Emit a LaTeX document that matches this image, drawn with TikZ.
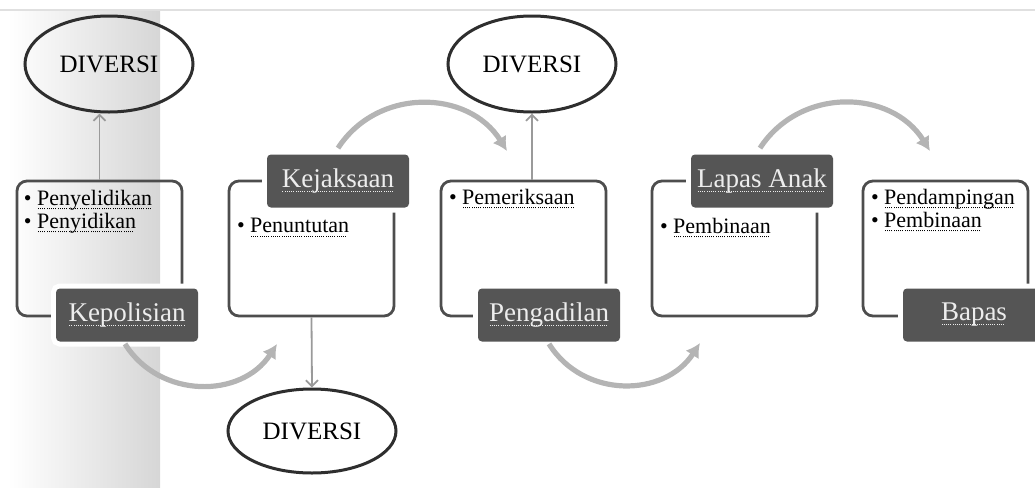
\documentclass[tikz,border=0pt]{standalone}
\usepackage{fontspec}
\setmainfont{Liberation Serif}
\usetikzlibrary{positioning,shapes.geometric,arrows.meta}
\definecolor{boxline}{HTML}{4D4D4D}
\definecolor{labelfill}{HTML}{555555}
\definecolor{labeltext}{HTML}{EDEDED}
\definecolor{flowgray}{HTML}{B4B4B4}
\definecolor{linkgray}{HTML}{9A9A9A}
\definecolor{ovalline}{HTML}{2E2E2E}
\newsavebox{\wavybox}
\newcommand{\wavy}[1]{\sbox\wavybox{#1}%
  \rlap{\lower2pt\hbox to\wd\wavybox{\leaders\hbox to 1.1pt{\hss\rule{0.45pt}{0.45pt}\hss}\hfill}}%
  \usebox\wavybox}
\tikzset{
  stagebox/.style={draw=boxline, line width=1.4pt, rounded corners=5pt,
    minimum width=82.5pt, minimum height=67.5pt, inner sep=0pt},
  stagelabel/.style={fill=labelfill, preaction={draw=white, line width=5pt},
    rounded corners=2pt, minimum width=71pt, minimum height=26.5pt, inner sep=0pt,
    text=labeltext, font=\fontsize{13.5}{16}\selectfont},
  diversi/.style={ellipse, draw=ovalline, line width=1.5pt, minimum width=84pt,
    minimum height=48pt, inner sep=0pt, font=\fontsize{12.5}{14}\selectfont},
  tasks/.style={align=left, inner sep=0pt, font=\fontsize{11}{11.5}\selectfont},
  flow/.style={draw=flowgray, line width=2.6pt, looseness=1.1,
    -{Latex[length=7pt,width=8pt]}},
  link/.style={draw=linkgray, line width=0.9pt, -{Straight Barb[length=3pt,width=6pt]}}
}

\begin{document}
\begin{tikzpicture}[x=0.5pt, y=-0.5pt]
  %%%%% START %%%%%
  \useasboundingbox (0,0) rectangle (1035,488);
  \clip (0,0) rectangle (1035,488);

  % shaded band and top rule
  \shade[left color=white, right color=black!16] (8,10) rectangle (160,488);
  \draw[black!12, line width=0.8pt] (0,10) -- (1035,10);

  % stages
  \node[stagebox] (polisibox) at (99.5,248.5) {};
  \node[stagebox] (jaksabox) at (311.5,248.5) {};
  \node[stagebox] (sidangbox) at (523.5,248.5) {};
  \node[stagebox] (lapasbox) at (734.5,248.5) {};
  \node[stagebox] (bapasbox) at (945.5,248.5) {};

  \node[stagelabel] (polisi) at (127,315) {\wavy{Kepolisian}};
  \node[stagelabel] (jaksa) at (338,181) {\wavy{Kejaksaan}};
  \node[stagelabel] (sidang) at (549,315) {\wavy{Pengadilan}};
  \node[stagelabel] (lapas) at (762,181) {\wavy{Lapas Anak}};
  \node[stagelabel] (bapas) at (974,315) {\wavy{Bapas}};

  \node[tasks, below right=5pt and 4pt of polisibox.north west] (polisitask)
    {\textbullet\ \wavy{Penyelidikan}\\\textbullet\ \wavy{Penyidikan}};
  \node[tasks, below right=19pt and 4.5pt of jaksabox.north west] (jaksatask)
    {\textbullet\ \wavy{Penuntutan}};
  \node[tasks, below right=4.5pt and 4.5pt of sidangbox.north west] (sidangtask)
    {\textbullet\ \wavy{Pemeriksaan}};
  \node[tasks, below right=19pt and 4.5pt of lapasbox.north west] (lapastask)
    {\textbullet\ \wavy{Pembinaan}};
  \node[tasks, below right=4.5pt and 4.5pt of bapasbox.north west] (bapastask)
    {\textbullet\ \wavy{Pendampingan}\\\textbullet\ \wavy{Pembinaan}};

  % diversi
  \node[diversi] (div1) at (109,64) {DIVERSI};
  \node[diversi] (div2) at (532,64) {DIVERSI};
  \node[diversi, minimum height=42pt] (div3) at (312,431) {DIVERSI};

  \draw[link] (polisibox.north) -- (polisibox.north |- div1.south);
  \draw[link] (jaksabox.south) -- (div3.north);
  \draw[link] (div2.south |- sidangbox.north) -- (div2.south);

  % flow between stages
  \coordinate (jaksain) at (277,344);
  \coordinate (sidangin) at (507,151);
  \coordinate (lapasin) at (700,343);
  \coordinate (bapasin) at (930,151);
  \draw[flow] ([xshift=-1pt,yshift=-1pt]polisi.south) to[out=-58, in=-123] (jaksain);
  \draw[flow] ([yshift=3pt]jaksa.north) to[out=57, in=122] (sidangin);
  \draw[flow] ([yshift=-1pt]sidang.south) to[out=-58, in=-123] (lapasin);
  \draw[flow] ([xshift=-1pt,yshift=3pt]lapas.north) to[out=57, in=122] (bapasin);
  %%%%% END %%%%%
\end{tikzpicture}
\end{document}
